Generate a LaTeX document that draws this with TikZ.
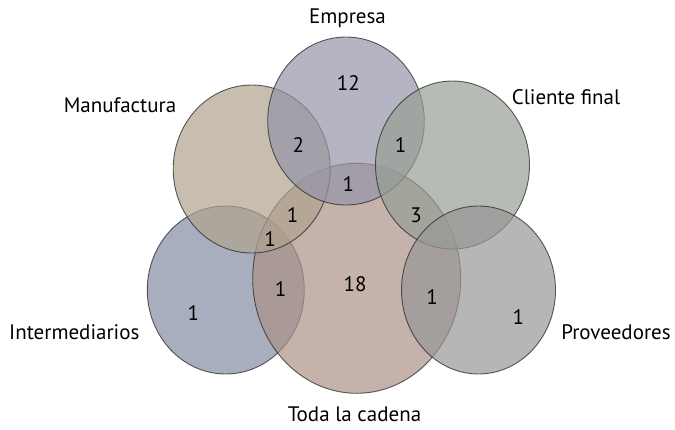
\documentclass[tikz,border=0pt]{standalone}
\usepackage{fontspec}
\setmainfont{PT Sans}
\definecolor{cInt}{RGB}{131,139,162}
\definecolor{cToda}{RGB}{171,145,136}
\definecolor{cMan}{RGB}{176,163,142}
\definecolor{cEmp}{RGB}{148,148,168}
\definecolor{cCli}{RGB}{151,159,148}
\definecolor{cProv}{RGB}{151,151,151}
\definecolor{edge}{RGB}{40,40,40}
\begin{document}
\begin{tikzpicture}[x=1pt,y=-1pt,
  set/.style={draw=edge,line width=0.9pt,fill opacity=0.7,draw opacity=0.75},
  lbl/.style={font=\fontsize{21}{24}\selectfont,text=black,anchor=base,inner sep=0pt},
  num/.style={font=\fontsize{21}{24}\selectfont,text=black,inner sep=0pt}]
\useasboundingbox (0,0) rectangle (675,429);
\path[set,fill=cInt] (225.8,290) ellipse [x radius=78.5,y radius=84];
\path[set,fill=cToda] (356.7,278.3) ellipse [x radius=104,y radius=115];
\path[set,fill=cMan] (251.7,169) ellipse [x radius=78.5,y radius=84];
\path[set,fill=cEmp] (346,121) ellipse [x radius=78.3,y radius=84];
\path[set,fill=cCli] (452.5,165) ellipse [x radius=77,y radius=84];
\path[set,fill=cProv] (478.5,290) ellipse [x radius=77,y radius=84];
\node[lbl] (lEmp) at (347.5,23) {Empresa};
\node[lbl] (lMan) at (120,112) {Manufactura};
\node[lbl] (lCli) at (566,104) {Cliente final};
\node[lbl] (lInt) at (74.3,339.3) {Intermediarios};
\node[lbl] (lProv) at (616,339.3) {Proveedores};
\node[lbl] (lToda) at (354.5,421.7) {Toda la cadena};
\node[num] (n1) at (348.3,82.7) {12};
\node[num] (n2) at (298.3,145) {2};
\node[num] (n3) at (400.7,145) {1};
\node[num] (n4) at (348.3,184) {1};
\node[num] (n5) at (292.7,215) {1};
\node[num] (n6) at (270,239.3) {1};
\node[num] (n7) at (416,215) {3};
\node[num] (n8) at (280.7,289.3) {1};
\node[num] (n9) at (355,284) {18};
\node[num] (n10) at (432,296.7) {1};
\node[num] (n11) at (193.3,312.7) {1};
\node[num] (n12) at (518.3,317.3) {1};
\end{tikzpicture}
\end{document}
